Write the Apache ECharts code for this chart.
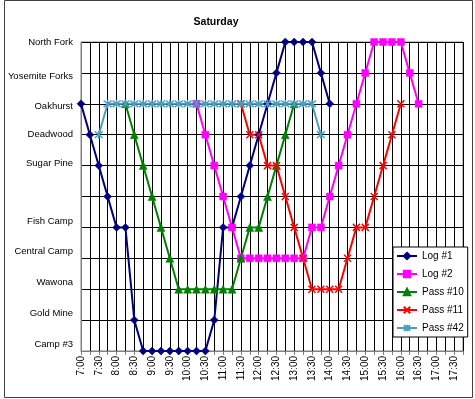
<!DOCTYPE html>
<html>
<head>
<meta charset="utf-8">
<script src="https://cdn.jsdelivr.net/npm/echarts@6/dist/echarts.min.js"></script>
<style>
html,body{margin:0;padding:0;background:#fff;}
#chart{width:475px;height:399px;}
</style>
</head>
<body>
<div id="chart"></div>
<script>
// Time categories (15-minute steps); every second one is labelled
var times = ['7:00','7:15','7:30','7:45','8:00','8:15','8:30','8:45','9:00','9:15','9:30','9:45',
  '10:00','10:15','10:30','10:45','11:00','11:15','11:30','11:45','12:00','12:15','12:30','12:45',
  '13:00','13:15','13:30','13:45','14:00','14:15','14:30','14:45','15:00','15:15','15:30','15:45',
  '16:00','16:15','16:30','16:45','17:00','17:15','17:30','17:45'];

// Stop names, bottom (0) to top (10)
var stops = ['Camp #3','Gold Mine','Wawona','Central Camp','Fish Camp','','Sugar Pine','Deadwood','Oakhurst','Yosemite Forks','North Fork'];

var seriesNames = ['Log #1','Log #2','Pass #10','Pass #11','Pass #42'];

var log1 = [8,7,6,5,4,4,1,0,0,0,0,0,0,0,0,1,4,4,5,6,7,8,9,10,10,10,10,9,8,
  null,null,null,null,null,null,null,null,null,null,null,null,null,null,null];

var log2 = [null,null,null,null,null,null,null,null,null,null,null,null,null,
  8,7,6,5,4,3,3,3,3,3,3,3,3,4,4,5,6,7,8,9,10,10,10,10,9,8,
  null,null,null,null,null];

var pass10 = [null,null,null,null,null,
  8,7,6,5,4,3,2,2,2,2,2,2,2,3,4,4,5,6,7,8,
  null,null,null,null,null,null,null,null,null,null,null,null,null,null,null,null,null,null,null];

var pass11 = [null,null,null,null,null,null,null,null,null,null,null,null,null,null,null,null,null,null,
  8,7,7,6,6,5,4,3,2,2,2,2,3,4,4,5,6,7,8,
  null,null,null,null,null,null,null];

var pass42 = [null,null,
  7,8,8,8,8,8,8,8,8,8,8,8,8,8,8,8,8,8,8,8,8,8,8,8,8,7,
  null,null,null,null,null,null,null,null,null,null,null,null,null,null,null,null];

var FONT = '"Liberation Sans", Arial, sans-serif';
var colors = ['#000080','#FF00FF','#008000','#FF0000','#4A9FC0'];
var symbols = ['diamond','rect','triangle',
  'path://M0,0L10,10M10,0L0,10',
  'path://M0,0L10,10M10,0L0,10M5,-1L5,11'];
var sizes = [8,7,8,7,8];
var dataSets = [log1, log2, pass10, pass11, pass42];

var labelStyle = {0:'u',1:'u',2:'u',3:'u',4:'u',6:'s',7:'n',8:'d',9:'d',10:'n'};

var chart = echarts.init(document.getElementById('chart'));
var series = dataSets.map(function(d, i){
  return {
    name: seriesNames[i],
    type: 'line',
    data: d,
    symbol: symbols[i],
    symbolSize: sizes[i],
    showSymbol: true,
    showAllSymbol: true,
    connectNulls: false,
    animation: false,
    lineStyle: {color: colors[i], width: 2},
    itemStyle: {color: colors[i], borderColor: colors[i], borderWidth: (i >= 3 ? 1.5 : 0.5)},
    emphasis: {disabled: true}
  };
});

var LF = 9.5;
chart.setOption({
  animation: false,
  backgroundColor: '#fff',
  title: {
    text: 'Saturday', left: 211, top: 12, textAlign: 'center',
    textStyle: {fontFamily: FONT, fontSize: 10.5, fontWeight: 'bold', color: '#000'}
  },
  grid: {left: 81, top: 42, width: 382, height: 309, show: true, borderColor: '#808080', borderWidth: 1, backgroundColor: '#fff'},
  xAxis: {
    type: 'category', data: times, boundaryGap: false,
    axisLine: {show: true, lineStyle: {color: '#808080'}},
    axisTick: {show: true, interval: 0, length: 4, lineStyle: {color: '#808080'}},
    axisLabel: {interval: 1, rotate: 90, margin: 5, fontFamily: FONT, fontSize: 10, color: '#000'},
    splitLine: {show: true, interval: 0, lineStyle: {color: '#000', width: 1}}
  },
  yAxis: {
    type: 'value', min: 0, max: 10, interval: 1,
    axisLine: {show: true, lineStyle: {color: '#808080'}},
    axisTick: {show: false},
    axisLabel: {
      margin: 8, fontFamily: FONT, fontSize: LF, color: '#000',
      formatter: function(v){
        var name = stops[v];
        if (!name) return '';
        return '{' + (labelStyle[v] || 'n') + '|' + name + '}';
      },
      rich: {
        n: {fontFamily: FONT, fontSize: LF, color: '#000'},
        u: {fontFamily: FONT, fontSize: LF, color: '#000', padding: [0,0,13,0]},
        s: {fontFamily: FONT, fontSize: LF, color: '#000', padding: [0,0,4,0]},
        d: {fontFamily: FONT, fontSize: LF, color: '#000', padding: [6,0,0,0]}
      }
    },
    splitLine: {show: true, lineStyle: {color: '#000', width: 1}}
  },
  legend: {
    orient: 'vertical', left: 393, top: 247,
    padding: [4,4,4,3], itemGap: 8, itemWidth: 20, itemHeight: 8,
    backgroundColor: '#fff', borderColor: '#000', borderWidth: 1,
    textStyle: {fontFamily: FONT, fontSize: 10, color: '#000'},
    data: seriesNames
  },
  graphic: [{
    type: 'rect', silent: true, z: 100,
    shape: {x: 4.5, y: 0.5, width: 468, height: 397},
    style: {fill: null, stroke: '#404040', lineWidth: 1}
  }],
  series: series
});
</script>
</body>
</html>
